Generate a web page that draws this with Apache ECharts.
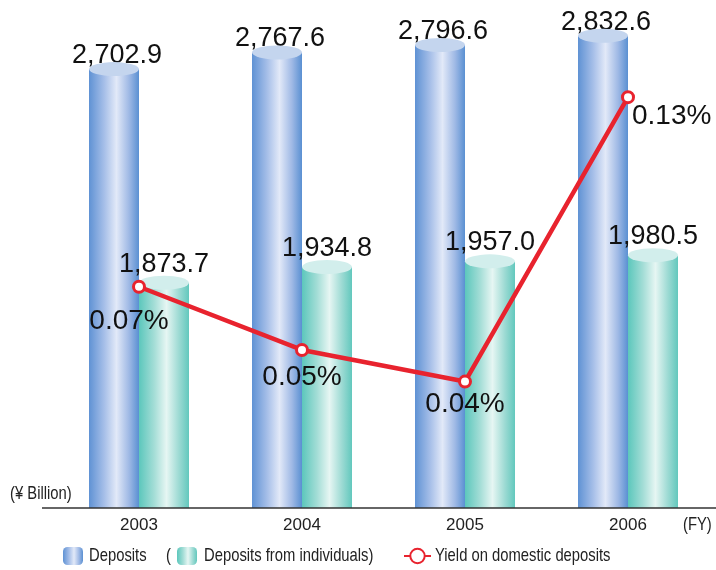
<!DOCTYPE html>
<html>
<head>
<meta charset="utf-8">
<script src="https://cdn.jsdelivr.net/npm/echarts@6/dist/echarts.min.js"></script>
<style>
  html, body { margin: 0; padding: 0; background: #fff; }
  #chart { width: 716px; height: 570px; }
</style>
</head>
<body>
<div id="chart"></div>
<script>
const years = ['2003', '2004', '2005', '2006']
const deposits = [2702.9, 2767.6, 2796.6, 2832.6]
const individuals = [1873.7, 1934.8, 1957.0, 1980.5]
const yieldRate = [0.07, 0.05, 0.04, 0.13]

const numFont = 'Liberation Sans, Arial, sans-serif'
const smallFont = '18.5px Liberation Sans, Arial, sans-serif'

// label placement for each yield point (offset from the marker)
const yieldLabelPos = [
  { position: 'bottom', offset: [-10, 9] },
  { position: 'bottom', offset: [0, 1] },
  { position: 'bottom', offset: [0, -3] },
  { position: 'right', offset: [-8, 19] }
]

const blueGrad = new echarts.graphic.LinearGradient(0, 0, 1, 0, [
  { offset: 0, color: '#5f92d4' },
  { offset: 0.3, color: '#a5bee8' },
  { offset: 0.55, color: '#e2e9f8' },
  { offset: 0.8, color: '#9fb9e5' },
  { offset: 1, color: '#5a90d2' }
])
const tealGrad = new echarts.graphic.LinearGradient(0, 0, 1, 0, [
  { offset: 0, color: '#5cc7bc' },
  { offset: 0.3, color: '#a3ddd6' },
  { offset: 0.55, color: '#e6f6f3' },
  { offset: 0.8, color: '#9cdad3' },
  { offset: 1, color: '#62c8bd' }
])

function fmt(v) {
  return v.toLocaleString('en-US', { minimumFractionDigits: 1, maximumFractionDigits: 1 })
}

// condensed-looking text (squeezed horizontally)
function narrowText(x, y, text) {
  return {
    type: 'text', x: x, y: y, scaleX: 0.8,
    style: { text: text, font: smallFont, fill: '#222', verticalAlign: 'middle' }
  }
}

const legendBase = {
  top: 542, itemHeight: 18, itemGap: 0, padding: 5,
  formatter: () => '',
  textStyle: { fontSize: 1 }
}

const chart = echarts.init(document.getElementById('chart'))
chart.setOption({
  animation: false,
  grid: { left: 57.5, right: 6.5, top: 8, bottom: 62 },
  xAxis: {
    type: 'category',
    data: years,
    axisLine: { show: false },
    axisTick: { show: false },
    axisLabel: { fontFamily: numFont, fontSize: 17, color: '#222', margin: 9 }
  },
  yAxis: [
    { type: 'value', min: 1000, max: 2940, show: false },
    { type: 'value', min: 0, max: 0.1582, show: false }
  ],
  legend: [
    Object.assign({}, legendBase, { data: ['Deposits'], left: 58, itemWidth: 20 }),
    Object.assign({}, legendBase, { data: ['Deposits from individuals'], left: 172, itemWidth: 20 }),
    Object.assign({}, legendBase, { data: ['Yield on domestic deposits'], left: 398, itemWidth: 27 })
  ],
  graphic: [
    { type: 'line', shape: { x1: 42, y1: 508, x2: 716, y2: 508 }, style: { stroke: '#333', lineWidth: 1.5 }, z: 10 },
    narrowText(10, 494, '(¥ Billion)'),
    narrowText(683, 525, '(FY)'),
    narrowText(89, 556, 'Deposits'),
    narrowText(166, 556, '('),
    narrowText(204, 556, 'Deposits from individuals)'),
    narrowText(435, 556, 'Yield on domestic deposits')
  ],
  series: [
    {
      name: 'Deposits',
      type: 'bar',
      barWidth: 50,
      barGap: 0,
      data: deposits,
      itemStyle: { color: blueGrad },
      label: {
        show: true, position: 'top', distance: 0, offset: [3, 0],
        fontFamily: numFont, fontSize: 27, color: '#111',
        formatter: p => fmt(p.value)
      },
      z: 2
    },
    {
      name: 'Deposits from individuals',
      type: 'bar',
      barWidth: 50,
      barGap: 0,
      data: individuals,
      itemStyle: { color: tealGrad },
      label: {
        show: true, position: 'top', distance: 5,
        fontFamily: numFont, fontSize: 27, color: '#111',
        formatter: p => fmt(p.value)
      },
      z: 2
    },
    {
      name: 'Deposits top',
      type: 'pictorialBar',
      symbol: 'circle',
      symbolSize: [50, 14],
      symbolPosition: 'end',
      symbolOffset: [0, '-50%'],
      barWidth: 50,
      barGap: 0,
      data: deposits,
      itemStyle: { color: '#c4d5ee' },
      z: 3
    },
    {
      name: 'Individuals top',
      type: 'pictorialBar',
      symbol: 'circle',
      symbolSize: [50, 14],
      symbolPosition: 'end',
      symbolOffset: [0, '-50%'],
      barWidth: 50,
      barGap: 0,
      data: individuals,
      itemStyle: { color: '#d2eeec' },
      z: 3
    },
    {
      name: 'Yield on domestic deposits',
      type: 'line',
      yAxisIndex: 1,
      data: yieldRate.map((v, i) => ({
        value: v,
        label: yieldLabelPos[i]
      })),
      symbol: 'circle',
      symbolSize: 11,
      lineStyle: { color: '#e8232e', width: 4.5 },
      itemStyle: { color: '#fff', borderColor: '#e8232e', borderWidth: 3 },
      label: {
        show: true, fontFamily: numFont, fontSize: 28, color: '#111',
        formatter: p => p.value.toFixed(2) + '%'
      },
      z: 5
    }
  ]
})
</script>
</body>
</html>
